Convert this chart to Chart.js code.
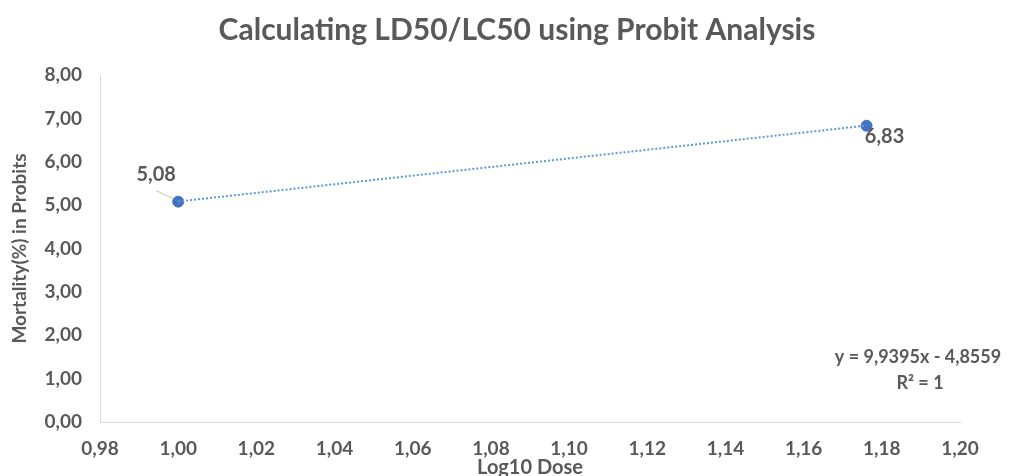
<!DOCTYPE html>
<html lang="en">
<head>
    <meta charset="UTF-8">
    <title>Calculating LD50/LC50 using Probit Analysis</title>
    <style>
        html, body {
            margin: 0;
            padding: 0;
            background: #ffffff;
        }
        #wrap {
            width: 1011px;
            height: 476px;
        }
    </style>
    <script src="https://cdn.jsdelivr.net/npm/chart.js"></script>
</head>
<body>
    <div id="wrap"><canvas id="grafico"></canvas></div>
    <script>
        // dados
        const logDose = [1.00, 1.1761];
        const probits = [5.08, 6.83];
        const pointLabels = ["5,08", "6,83"];
        const trendSlope = 9.9395;
        const trendIntercept = -4.8559;
        const trendText = ["y = 9,9395x - 4,8559", "R² = 1"];

        const textColor = "#595959";
        const fontFam = "Lato, 'Open Sans', sans-serif";

        const fmt = (v) => v.toFixed(2).replace(".", ",");

        const trendPoints = logDose.map((x) => ({ x: x, y: trendSlope * x + trendIntercept }));

        // título, rótulos dos pontos e equação da linha de tendência
        const annotations = {
            id: "annotations",
            afterDraw(chart) {
                const ctx = chart.ctx;
                const xs = chart.scales.x;
                const ys = chart.scales.y;
                ctx.save();
                ctx.fillStyle = textColor;
                ctx.textAlign = "center";
                ctx.textBaseline = "middle";

                ctx.font = "bold 30px " + fontFam;
                ctx.fillText("Calculating LD50/LC50 using Probit Analysis", 517, 30);

                const px0 = xs.getPixelForValue(logDose[0]);
                const py0 = ys.getPixelForValue(probits[0]);
                ctx.strokeStyle = "#c8c4a0";
                ctx.lineWidth = 1;
                ctx.beginPath();
                ctx.moveTo(px0 - 5, py0 - 3);
                ctx.lineTo(px0 - 22, py0 - 11);
                ctx.stroke();

                ctx.font = "bold 20px " + fontFam;
                ctx.fillText(pointLabels[0], px0 - 22, py0 - 27);

                const px1 = xs.getPixelForValue(logDose[1]);
                const py1 = ys.getPixelForValue(probits[1]);
                ctx.fillText(pointLabels[1], px1 + 18, py1 + 11);

                ctx.font = "bold 18px " + fontFam;
                ctx.fillText(trendText[0], 918, 357);
                ctx.fillText(trendText[1], 920, 383);
                ctx.restore();
            }
        };

        const ctx = document.getElementById("grafico").getContext("2d");
        new Chart(ctx, {
            type: "scatter",
            data: {
                datasets: [
                    {
                        label: "Tendência",
                        data: trendPoints,
                        showLine: true,
                        borderColor: "#5B9BD5",
                        borderWidth: 2,
                        borderDash: [2, 2],
                        pointRadius: 0,
                        fill: false,
                    },
                    {
                        label: "Probit",
                        data: logDose.map((x, i) => ({ x: x, y: probits[i] })),
                        backgroundColor: "#4472C4",
                        borderColor: "#4472C4",
                        pointRadius: 5.5,
                    },
                ],
            },
            options: {
                responsive: true,
                maintainAspectRatio: false,
                animation: false,
                layout: {
                    padding: { top: 75, right: 51, bottom: 0, left: 0 },
                },
                plugins: {
                    legend: { display: false },
                    tooltip: { enabled: false },
                },
                scales: {
                    x: {
                        type: "linear",
                        min: 0.98,
                        max: 1.20,
                        grid: { display: false, drawTicks: false },
                        border: { color: "#d9d9d9", width: 1 },
                        ticks: {
                            stepSize: 0.02,
                            padding: 15,
                            color: textColor,
                            font: { family: fontFam, size: 19, weight: "bold" },
                            callback: (v) => fmt(v),
                            maxRotation: 0,
                        },
                        title: {
                            display: true,
                            text: "Log10 Dose",
                            color: textColor,
                            font: { family: fontFam, size: 20, weight: "bold" },
                            padding: { top: 0, bottom: -4 },
                        },
                        afterFit: (scale) => { scale.height = 54; },
                    },
                    y: {
                        min: 0,
                        max: 8,
                        grid: { display: false, drawTicks: false },
                        border: { color: "#d9d9d9", width: 1 },
                        ticks: {
                            stepSize: 1,
                            padding: 18,
                            color: textColor,
                            font: { family: fontFam, size: 19, weight: "bold" },
                            callback: (v) => fmt(v),
                        },
                        title: {
                            display: true,
                            text: "Mortality(%) in Probits",
                            color: textColor,
                            font: { family: fontFam, size: 19, weight: "bold" },
                            padding: { top: 8, bottom: 0 },
                        },
                        afterFit: (scale) => { scale.width = 100; },
                    },
                },
            },
            plugins: [annotations],
        });
    </script>
</body>
</html>
